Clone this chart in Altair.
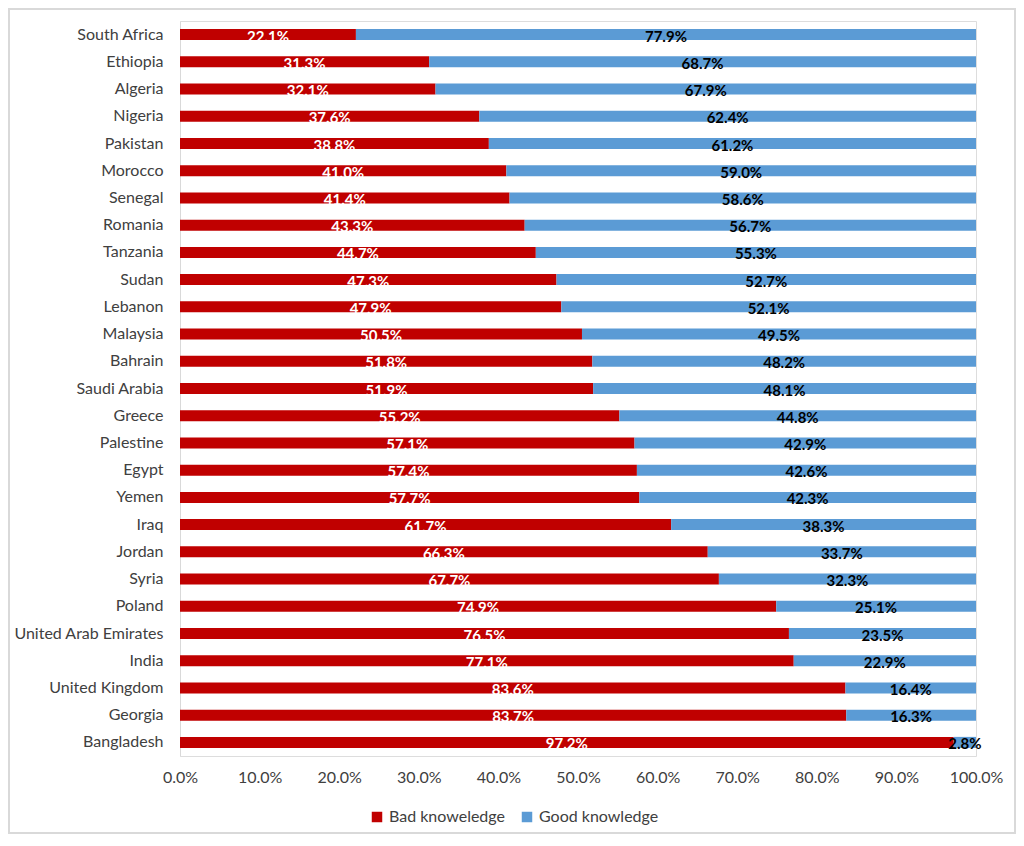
import altair as alt
import pandas as pd

countries = ["South Africa", "Ethiopia", "Algeria", "Nigeria", "Pakistan", "Morocco",
             "Senegal", "Romania", "Tanzania", "Sudan", "Lebanon", "Malaysia", "Bahrain",
             "Saudi Arabia", "Greece", "Palestine", "Egypt", "Yemen", "Iraq", "Jordan",
             "Syria", "Poland", "United Arab Emirates", "India", "United Kingdom",
             "Georgia", "Bangladesh"]
bad = [22.1, 31.3, 32.1, 37.6, 38.8, 41.0, 41.4, 43.3, 44.7, 47.3, 47.9, 50.5, 51.8,
       51.9, 55.2, 57.1, 57.4, 57.7, 61.7, 66.3, 67.7, 74.9, 76.5, 77.1, 83.6, 83.7, 97.2]
good = [77.9, 68.7, 67.9, 62.4, 61.2, 59.0, 58.6, 56.7, 55.3, 52.7, 52.1, 49.5, 48.2,
        48.1, 44.8, 42.9, 42.6, 42.3, 38.3, 33.7, 32.3, 25.1, 23.5, 22.9, 16.4, 16.3, 2.8]
series = ["Bad knoweledge", "Good knowledge"]
colors = ["#C00000", "#5B9BD5"]
text_colors = ["white", "black"]

rows = []
for c, b, g in zip(countries, bad, good):
    rows.append({"country": c, "series": series[0], "value": b, "start": 0.0, "end": b,
                 "mid": b / 2, "label": f"{b:.1f}%", "order": 0})
    rows.append({"country": c, "series": series[1], "value": g, "start": b, "end": b + g,
                 "mid": b + g / 2, "label": f"{g:.1f}%", "order": 1})
df = pd.DataFrame(rows)

FONT = "Lato"

y_enc = alt.Y("country:N", sort=countries, title=None,
              scale=alt.Scale(paddingInner=0.6, paddingOuter=0.3),
              axis=alt.Axis(ticks=False, domainColor="#d9d9d9", labelFontSize=16,
                            labelColor="#404040", labelPadding=17, labelFont=FONT))
x_scale = alt.Scale(domain=[0, 100], nice=False)

bars = alt.Chart(df).mark_bar(size=11).encode(
    y=y_enc,
    x=alt.X("start:Q", scale=x_scale, title=None,
            axis=alt.Axis(values=list(range(0, 101, 10)), labelExpr="format(datum.value, '.1f') + '%'",
                          grid=False, domain=False, ticks=False, labelFontSize=16,
                          labelFlush=False,
                          labelColor="#404040", labelPadding=13, labelFont=FONT)),
    x2="end:Q",
    color=alt.Color("series:N", scale=alt.Scale(domain=series, range=colors),
                    legend=alt.Legend(title=None, orient="none", direction="horizontal",
                                      legendX=189, legendY=788, symbolType="square",
                                      symbolSize=110, symbolStrokeWidth=0,
                                      labelFontSize=16, labelColor="#404040",
                                      labelFont=FONT, columnPadding=14)),
)

labels = alt.Chart(df).mark_text(fontSize=15, fontWeight="bold", font=FONT, dy=2,
                                 baseline="middle", align="center").encode(
    y=alt.Y("country:N", sort=countries),
    x=alt.X("mid:Q", scale=x_scale),
    text="label:N",
    color=alt.Color("series:N", scale=alt.Scale(domain=series, range=text_colors), legend=None),
)

border = alt.Chart(pd.DataFrame({"a": [0]})).mark_rect(
    fill="transparent", stroke="#d9d9d9", strokeWidth=2, clip=False).encode(
    x=alt.value(-171), x2=alt.value(835), y=alt.value(-12), y2=alt.value(812))

chart = alt.layer(bars, labels, border).resolve_scale(color="independent").properties(
    width=796, height=735, autosize="none",
    padding={"left": 172, "top": 13, "right": 40, "bottom": 78},
).configure_view(stroke=None).configure(background="white")

chart.save("out.html", embed_options={"renderer": "svg", "actions": False})
